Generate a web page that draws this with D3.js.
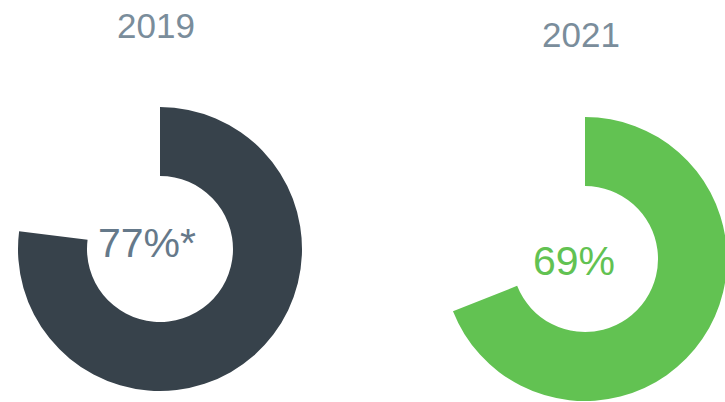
<!DOCTYPE html>
<html>
<head>
<meta charset="utf-8">
<script src="https://cdn.jsdelivr.net/npm/d3@7"></script>
<style>
  body { margin: 0; background: #ffffff; }
  svg { display: block; font-family: "Liberation Sans", Arial, sans-serif; }
</style>
</head>
<body>
<svg id="chart" width="725" height="402"></svg>
<script>
// data
const years = ["2019", "2021"];
const shares = [77, 69];
const labels = ["77%*", "69%"];

const colors = ["#37424b", "#62c252"];
const labelColors = ["#65798a", "#62c252"];

let attr = {
  "width": 725,
  "height": 402,
  "outer": 142,
  "inner": 73
};

// donut centres
const centers = [{x: 160, y: 249}, {x: 585, y: 259}];
const titleY = [38, 47];
const labelPos = [{x: 147, y: 257}, {x: 574, y: 275}];

var svg = d3.select("#chart");

// percentage to angle
var aScale = d3.scaleLinear().domain([0, 100]).range([0, Math.PI * 2]);

var arc = d3.arc()
  .innerRadius(attr.inner)
  .outerRadius(attr.outer)
  .startAngle(0)
  .endAngle(d => aScale(d));

var donut = svg.selectAll(".donut")
  .data(shares)
  .enter()
  .append("g")
  .attr("class", "donut")
  .attr("transform", (d, i) => "translate(" + centers[i].x + "," + centers[i].y + ")");

donut.append("path")
  .attr("d", d => arc(d))
  .style("fill", (d, i) => colors[i]);

// year titles
svg.selectAll(".title")
  .data(years)
  .enter()
  .append("text")
  .attr("class", "title")
  .attr("x", (d, i) => centers[i].x - 4)
  .attr("y", (d, i) => titleY[i])
  .attr("text-anchor", "middle")
  .style("font-size", "35px")
  .style("fill", "#7a8d9b")
  .text(d => d);

// value labels
svg.selectAll(".value")
  .data(labels)
  .enter()
  .append("text")
  .attr("class", "value")
  .attr("x", (d, i) => labelPos[i].x)
  .attr("y", (d, i) => labelPos[i].y)
  .attr("text-anchor", "middle")
  .style("font-size", "41px")
  .style("fill", (d, i) => labelColors[i])
  .text(d => d);
</script>
</body>
</html>
